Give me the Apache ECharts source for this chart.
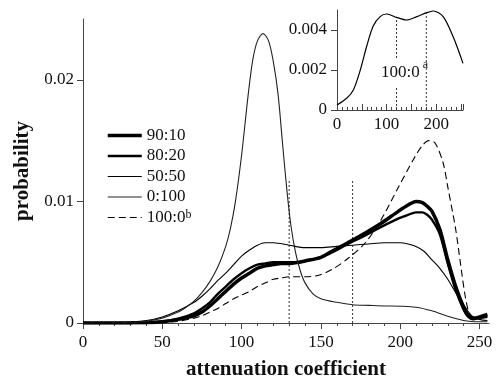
<!DOCTYPE html>
<html>
<head>
<meta charset="utf-8">
<script src="https://cdn.jsdelivr.net/npm/echarts@6/dist/echarts.min.js"></script>
<style>
  html, body { margin: 0; padding: 0; background: #fff; }
  #chart { width: 502px; height: 377px; }
</style>
</head>
<body>
<div id="chart"></div>
<script>
// main panel curves, [attenuation coefficient, probability]
const s9010 = [[0,0],[20,0],[30,0.00001],[40,0.00003],[50,0.0001],[60,0.0003],[70,0.0006],[75,0.0009],[80,0.0014],[85,0.002],[90,0.0026],[95,0.0032],[100,0.0037],[105,0.0041],[110,0.0045],[115,0.0047],[120,0.0048],[125,0.0049],[130,0.0049],[136,0.005],[140,0.0051],[150,0.0054],[157,0.0059],[167,0.0066],[178,0.0074],[188,0.0082],[199,0.0092],[205,0.0097],[210,0.01],[214,0.0099],[217,0.0096],[220,0.0092],[225,0.0077],[230,0.0052],[235,0.003],[240,0.0013],[243,0.0006],[246,0.0004],[250,0.0005],[255,0.0007]];
const s8020 = [[0,0],[30,0.00001],[40,0.00004],[50,0.00012],[60,0.00035],[70,0.0008],[75,0.0012],[80,0.0017],[85,0.0024],[90,0.003],[95,0.0036],[100,0.0041],[105,0.0045],[110,0.0048],[115,0.0049],[120,0.005],[125,0.005],[130,0.005],[136,0.005],[140,0.0051],[150,0.0054],[157,0.0058],[167,0.0065],[178,0.0072],[188,0.0079],[199,0.0086],[205,0.0089],[210,0.0091],[214,0.0091],[217,0.0089],[220,0.0085],[225,0.0073],[230,0.0049],[235,0.0027],[240,0.0011],[243,0.0005],[246,0.0003],[250,0.0004],[255,0.0005]];
const s5050 = [[0,0],[10,0.00001],[20,0.00003],[30,0.00008],[40,0.0002],[50,0.0005],[60,0.001],[70,0.0017],[75,0.0022],[80,0.0028],[85,0.0035],[90,0.0041],[95,0.0048],[100,0.0055],[105,0.006],[110,0.0064],[115,0.0066],[120,0.0066],[130,0.0064],[140,0.0062],[150,0.0062],[160,0.0063],[170,0.0064],[180,0.0065],[190,0.0066],[200,0.0066],[205,0.0065],[210,0.0063],[215,0.0059],[220,0.0052],[225,0.0045],[230,0.0036],[235,0.0025],[240,0.0015],[245,0.0006],[250,0.0003],[255,0.0002]];
const s0100 = [[0,0],[10,0],[20,0.00002],[30,0.00005],[40,0.00015],[50,0.0004],[60,0.0009],[65,0.0013],[70,0.0018],[75,0.0025],[80,0.0034],[85,0.0046],[90,0.0063],[93,0.0078],[96,0.0099],[100,0.0138],[104,0.0186],[107,0.0216],[110,0.0232],[113.5,0.0238],[117,0.0232],[120,0.0215],[123,0.0188],[126,0.0145],[128.5,0.011],[131,0.0081],[134,0.0058],[137,0.0043],[140,0.0033],[145,0.0024],[150,0.002],[160,0.0017],[170,0.0015],[180,0.00145],[190,0.0014],[200,0.00138],[210,0.0013],[220,0.001],[230,0.00055],[240,0.0002],[245,0.00012],[250,0.0001],[255,0.0001]];
const s1000 = [[0,0],[40,0.00001],[50,0.00004],[60,0.00015],[70,0.0004],[75,0.0006],[80,0.0009],[85,0.0012],[90,0.0016],[95,0.002],[100,0.0023],[105,0.0026],[110,0.003],[115,0.0033],[120,0.0036],[125,0.0037],[130,0.0038],[136,0.0038],[140,0.0038],[148,0.0039],[157,0.0044],[167,0.0053],[178,0.0066],[188,0.0085],[199,0.0112],[209,0.0136],[214,0.0146],[218,0.015],[222,0.0148],[227,0.0132],[230,0.0112],[235,0.0077],[238,0.0049],[241,0.0022],[243.5,0.0008],[246,0.0004],[250,0.0005],[255,0.0007]];

// dotted markers in the main panel
const markX = [130, 170];
const markTop = [0.0118, 0.0118];

// inset curve (100:0 a)
const insetCurve = [[0,0.00025],[20,0.0006],[33,0.001],[47,0.002],[60,0.0032],[73,0.0042],[87,0.00467],[100,0.0048],[120,0.00463],[140,0.0045],[161,0.00467],[181,0.00487],[194,0.00495],[214,0.00467],[234,0.00367],[254,0.00233]];
const insetMarkX = [120, 180];
const insetMarkTop = [0.00463, 0.00487];

// tick labels
const mainXLabels = [0, 50, 100, 150, 200, 250];
const mainYLabels = [0, 0.01, 0.02];
const insetXLabels = [0, 100, 200];
const insetYLabels = [0, 0.002, 0.004];

const FONT = 'Liberation Serif';
const INK = '#111';
const AXIS = '#444';

const chart = echarts.init(document.getElementById('chart'));

const vLines = (xs, tops, xi, yi, name) => xs.map((x, i) => ({
    name: name + i,
    type: 'line',
    xAxisIndex: xi,
    yAxisIndex: yi,
    data: [[x, 0], [x, tops[i]]],
    symbol: 'none',
    silent: true,
    z: 1,
    lineStyle: { color: '#333', width: 1, type: [2, 2] } // dotted
}));

const option = {
    animation: false,
    backgroundColor: '#fff',
    textStyle: { fontFamily: FONT },
    title: {
        text: '{m|100:0}{s|a}',
        left: 380,
        top: 59,
        padding: 0,
        z: 10,
        textStyle: {
            fontFamily: FONT,
            fontWeight: 'normal',
            rich: {
                m: { fontFamily: FONT, fontWeight: 'normal', fontSize: 17, color: INK, backgroundColor: '#fff', padding: [5, 1, 6, 1] },
                s: { fontFamily: FONT, fontWeight: 'normal', fontSize: 12, color: INK, verticalAlign: 'top', padding: [0, 0, 0, 2] }
            }
        }
    },
    legend: {
        orient: 'vertical',
        left: 106,
        top: 127,
        padding: 0,
        itemWidth: 34,
        itemHeight: 14,
        itemGap: 3.5,
        data: ['90:10', '80:20', '50:50', '0:100', '100:0'],
        itemStyle: { opacity: 0 },
        lineStyle: { width: 'inherit' },
        formatter: name => name === '100:0' ? '100:0{sup|b}' : name,
        textStyle: {
            fontFamily: FONT,
            fontSize: 17,
            color: INK,
            rich: { sup: { fontFamily: FONT, fontSize: 12, color: INK, verticalAlign: 'top' } }
        }
    },
    grid: [
        { left: 83, right: 13, top: 19, bottom: 54, outerBoundsMode: 'none' },
        { left: 337, top: 10, width: 126, height: 100, outerBoundsMode: 'none' }
    ],
    xAxis: [
        {
            type: 'value', gridIndex: 0, min: 0, max: 256, interval: 50,
            name: 'attenuation coefficient', nameLocation: 'middle', nameGap: 36,
            nameTextStyle: { fontFamily: FONT, fontSize: 21, fontWeight: 'bold', color: INK },
            axisLine: { onZero: false, lineStyle: { color: AXIS, width: 1 } },
            axisTick: { show: true, length: 6, lineStyle: { color: AXIS }, customValues: mainXLabels },
            minorTick: { show: true, splitNumber: 5, length: 3, lineStyle: { color: AXIS } },
            axisLabel: { fontFamily: FONT, fontSize: 17, color: INK, margin: 11, customValues: mainXLabels },
            splitLine: { show: false }
        },
        {
            type: 'value', gridIndex: 1, min: 0, max: 254, interval: 50,
            axisLine: { onZero: false, lineStyle: { color: AXIS, width: 1 } },
            axisTick: { show: true, inside: true, length: 6, lineStyle: { color: AXIS } },
            minorTick: { show: true, splitNumber: 5, length: 3, lineStyle: { color: AXIS } },
            axisLabel: { fontFamily: FONT, fontSize: 17, color: INK, margin: 6, customValues: insetXLabels },
            splitLine: { show: false }
        }
    ],
    yAxis: [
        {
            type: 'value', gridIndex: 0, min: 0, max: 0.025,
            name: 'probability', nameLocation: 'middle', nameGap: 42,
            nameTextStyle: { fontFamily: FONT, fontSize: 21, fontWeight: 'bold', color: INK },
            axisLine: { show: true, onZero: false, lineStyle: { color: AXIS, width: 1 } },
            axisTick: { show: true, length: 6, lineStyle: { color: AXIS }, customValues: mainYLabels },
            axisLabel: { fontFamily: FONT, fontSize: 17, color: INK, margin: 9, customValues: mainYLabels },
            splitLine: { show: false }
        },
        {
            type: 'value', gridIndex: 1, min: 0, max: 0.005,
            axisLine: { show: true, onZero: false, lineStyle: { color: AXIS, width: 1 } },
            axisTick: { show: true, length: 6, lineStyle: { color: AXIS }, customValues: insetYLabels },
            axisLabel: { fontFamily: FONT, fontSize: 17, color: INK, margin: 10, customValues: insetYLabels },
            splitLine: { show: false }
        }
    ],
    series: [
        ...vLines(markX, markTop, 0, 0, 'mark'),
        ...vLines(insetMarkX, insetMarkTop, 1, 1, 'insetMark'),
        { name: '90:10', type: 'line', data: s9010, symbol: 'none', smooth: 0.3, lineStyle: { color: '#000', width: 3.5 } },
        { name: '80:20', type: 'line', data: s8020, symbol: 'none', smooth: 0.3, lineStyle: { color: '#000', width: 2.4 } },
        { name: '50:50', type: 'line', data: s5050, symbol: 'none', smooth: 0.3, lineStyle: { color: '#000', width: 1.1 } },
        { name: '0:100', type: 'line', data: s0100, symbol: 'none', smooth: 0.3, lineStyle: { color: '#222', width: 1.1 } },
        { name: '100:0', type: 'line', data: s1000, symbol: 'none', smooth: 0.3, lineStyle: { color: '#000', width: 1.1, type: [7, 4] } },
        { name: 'inset', type: 'line', xAxisIndex: 1, yAxisIndex: 1, data: insetCurve, symbol: 'none', smooth: 0.3, lineStyle: { color: '#000', width: 1.2 } }
    ]
};

chart.setOption(option);
</script>
</body>
</html>
